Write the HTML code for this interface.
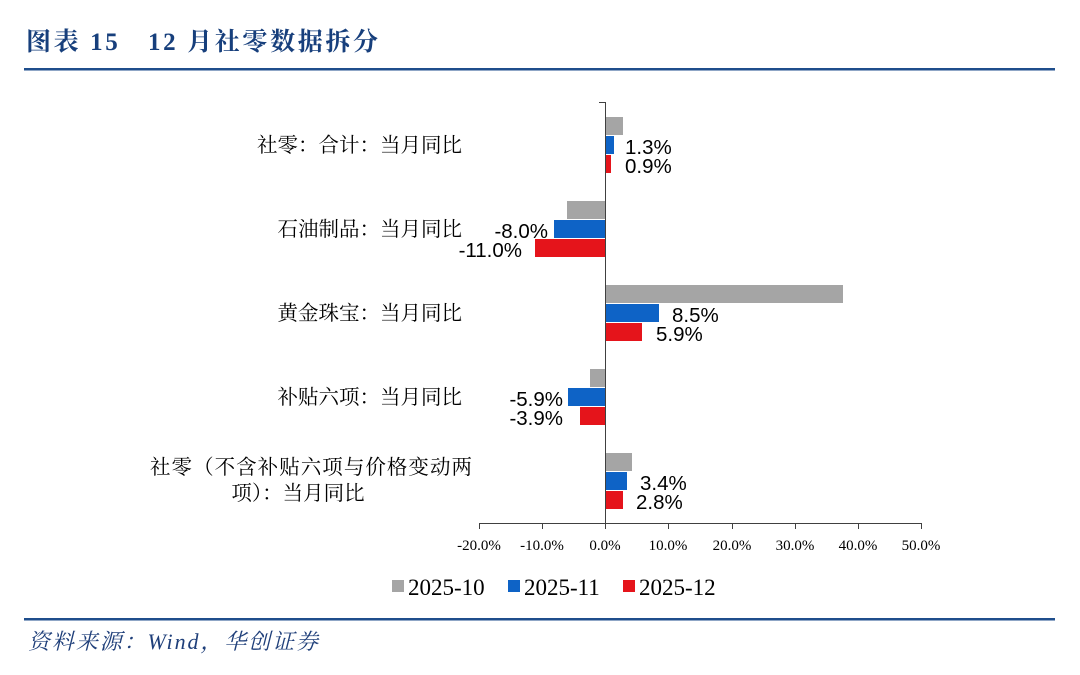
<!DOCTYPE html>
<html><head><meta charset="utf-8"><style>
html,body{margin:0;padding:0;background:#fff;}
svg{display:block;}
</style></head><body>
<svg width="1080" height="675" viewBox="0 0 1080 675" xmlns="http://www.w3.org/2000/svg">
<text x="26" y="50" font-family="'Liberation Serif','Noto Serif CJK SC',serif" font-size="25" font-weight="bold" fill="#173f7c" textLength="352" lengthAdjust="spacing">图表 15　12 月社零数据拆分</text>
<rect x="24" y="68" width="1031" height="2.5" fill="#1f4e8c"/>
<rect x="24" y="618" width="1031" height="2.5" fill="#1f4e8c"/>
<text x="28" y="649" font-family="'Liberation Serif','Noto Serif CJK SC',serif" font-size="22" font-style="italic" fill="#1f3f7a" textLength="290" lengthAdjust="spacing">资料来源：Wind，华创证券</text>

<g font-family="'Liberation Sans','Noto Sans CJK SC',sans-serif" font-size="20.5" fill="#000">
<rect x="605" y="117" width="18" height="18" fill="#a5a5a5"/>
<rect x="605" y="136" width="9" height="18" fill="#0e63c6"/>
<rect x="605" y="155" width="6" height="18" fill="#e5141b"/>
<text x="625" y="154">1.3%</text>
<text x="625" y="173">0.9%</text>
<rect x="567" y="201" width="38" height="18" fill="#a5a5a5"/>
<rect x="554" y="220" width="51" height="18" fill="#0e63c6"/>
<rect x="535" y="239" width="70" height="18" fill="#e5141b"/>
<text x="548" y="238" text-anchor="end">-8.0%</text>
<text x="522" y="257" text-anchor="end">-11.0%</text>
<rect x="605" y="285" width="238" height="18" fill="#a5a5a5"/>
<rect x="605" y="304" width="54" height="18" fill="#0e63c6"/>
<rect x="605" y="323" width="37" height="18" fill="#e5141b"/>
<text x="672" y="322">8.5%</text>
<text x="656" y="341">5.9%</text>
<rect x="590" y="369" width="15" height="18" fill="#a5a5a5"/>
<rect x="568" y="388" width="37" height="18" fill="#0e63c6"/>
<rect x="580" y="407" width="25" height="18" fill="#e5141b"/>
<text x="563" y="406" text-anchor="end">-5.9%</text>
<text x="563" y="425" text-anchor="end">-3.9%</text>
<rect x="605" y="453" width="27" height="18" fill="#a5a5a5"/>
<rect x="605" y="472" width="22" height="18" fill="#0e63c6"/>
<rect x="605" y="491" width="18" height="18" fill="#e5141b"/>
<text x="640" y="490">3.4%</text>
<text x="636" y="509">2.8%</text>
</g>

<g stroke="#404040" stroke-width="1" fill="none">
<line x1="605.5" y1="102" x2="605.5" y2="523"/>
<line x1="605" y1="102.5" x2="599" y2="102.5"/>
<line x1="479" y1="523.5" x2="922" y2="523.5"/>
<line x1="479.5" y1="523" x2="479.5" y2="529"/>
<line x1="542.5" y1="523" x2="542.5" y2="529"/>
<line x1="605.5" y1="523" x2="605.5" y2="529"/>
<line x1="668.5" y1="523" x2="668.5" y2="529"/>
<line x1="732.5" y1="523" x2="732.5" y2="529"/>
<line x1="795.5" y1="523" x2="795.5" y2="529"/>
<line x1="858.5" y1="523" x2="858.5" y2="529"/>
<line x1="921.5" y1="523" x2="921.5" y2="529"/>
</g>
<g font-family="'Liberation Serif',serif" font-size="15" fill="#000" text-anchor="middle">
<text x="479" y="550">-20.0%</text>
<text x="542" y="550">-10.0%</text>
<text x="605" y="550">0.0%</text>
<text x="668" y="550">10.0%</text>
<text x="732" y="550">20.0%</text>
<text x="795" y="550">30.0%</text>
<text x="858" y="550">40.0%</text>
<text x="921" y="550">50.0%</text>
</g>

<g font-family="'Liberation Serif','Noto Serif CJK SC',serif" font-size="20.5" fill="#000">
<text x="462" y="152" text-anchor="end">社零：合计：当月同比</text>
<text x="462" y="236" text-anchor="end">石油制品：当月同比</text>
<text x="462" y="320" text-anchor="end">黄金珠宝：当月同比</text>
<text x="462" y="404" text-anchor="end">补贴六项：当月同比</text>
<text x="311" y="474" text-anchor="middle" textLength="322" lengthAdjust="spacing">社零（不含补贴六项与价格变动两</text>
<text x="298" y="500" text-anchor="middle">项）：当月同比</text>
</g>

<g font-family="'Liberation Serif',serif" font-size="23" fill="#000">
<rect x="392" y="580" width="12" height="12" fill="#a5a5a5"/>
<text x="408" y="595">2025-10</text>
<rect x="508" y="580" width="12" height="12" fill="#0e63c6"/>
<text x="524" y="595">2025-11</text>
<rect x="623" y="580" width="12" height="12" fill="#e5141b"/>
<text x="639" y="595">2025-12</text>
</g>
</svg>
</body></html>
